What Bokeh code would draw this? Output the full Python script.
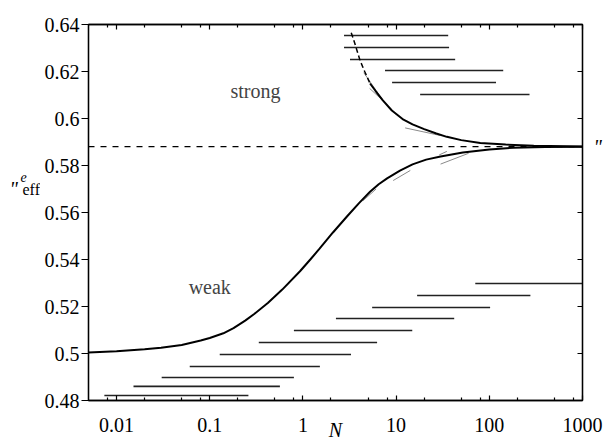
from bokeh.plotting import figure
from bokeh.layouts import row
from bokeh.models import (LogAxis, LinearAxis, FixedTicker, CustomJSTickFormatter,
                          Label, Span, Range1d)
from bokeh.core.properties import value
from bokeh.embed import file_html
from bokeh.resources import INLINE

# ---- data -------------------------------------------------------------
# weak-coupling crossover curve
weak_n = [0.005, 0.01, 0.02, 0.03, 0.05, 0.08, 0.1, 0.14, 0.18, 0.24, 0.3, 0.42, 0.6,
          0.93, 1.2, 1.5, 2.1, 3, 4, 5.25, 6.5, 8, 11, 15, 21, 30, 52, 100, 180, 400, 1000]
weak_nu = [0.5004, 0.5010, 0.5018, 0.5024, 0.5036, 0.5055, 0.5066, 0.5086, 0.5108,
           0.5140, 0.5168, 0.5215, 0.5272, 0.5350, 0.5400, 0.5445, 0.5515, 0.5585,
           0.5640, 0.5688, 0.5720, 0.5745, 0.5778, 0.5805, 0.5825, 0.5838, 0.5855,
           0.5868, 0.5876, 0.5879, 0.5880]

# strong-coupling crossover curve (first points extrapolated -> dashed)
strong_n = [3.3, 3.6, 4.1, 4.6, 5.25, 6.0, 7.2, 9.0, 12, 15, 20, 27, 35, 50, 80, 150,
            300, 1000]
strong_nu = [0.6365, 0.6320, 0.6247, 0.6200, 0.6149, 0.6118, 0.6077, 0.6034, 0.5995,
             0.5975, 0.5955, 0.5936, 0.5922, 0.5908, 0.5896, 0.5889, 0.5884, 0.5881]
strong_split = 4

# asymptotic exponent
nu_inf = 0.588

# thin grey pieces of individual chain-length data
grey_n = [[4.5, 7.0], [5.2, 7.6], [12.5, 29.5], [4.4, 6.1], [9.3, 14.2], [30, 60], [29, 35]]
grey_nu = [[0.6195, 0.6085], [0.6128, 0.6068], [0.5960, 0.5928], [0.5650, 0.5700],
           [0.5736, 0.5779], [0.5806, 0.5852], [0.5845, 0.5860]]

# fit windows (N ranges) used for the weak side
weak_lo = [0.0074, 0.0152, 0.0305, 0.061, 0.128, 0.336, 0.80, 2.26, 5.53, 16.8, 70.7]
weak_hi = [0.26, 0.566, 0.80, 1.52, 3.28, 6.25, 14.9, 42, 102, 276, 1000]
weak_lvl = [0.4821, 0.4860, 0.4898, 0.4945, 0.4996, 0.5047, 0.5098, 0.5149, 0.5196,
            0.5247, 0.5298]

# fit windows for the strong side
strong_lo = [2.76, 2.76, 3.2, 7.6, 9.05, 18.1]
strong_hi = [36.2, 37, 43, 141, 118, 270]
strong_lvl = [0.6353, 0.6302, 0.6251, 0.6204, 0.6153, 0.6102]

x_major = [0.01, 0.1, 1, 10, 100, 1000]
x_minor = [0.008, 0.02, 0.05, 0.08, 0.2, 0.5, 0.8, 2, 5, 8, 20, 50, 80, 200, 500, 800]
y_major = [0.48, 0.5, 0.52, 0.54, 0.56, 0.58, 0.6, 0.62, 0.64]

FONT = "Liberation Serif"
FS = "20px"
H = 445

# ---- main figure ------------------------------------------------------
p = figure(width=566, height=H, x_axis_type="log",
           x_range=Range1d(0.005, 1000), y_range=Range1d(0.48, 0.64),
           output_backend="svg", toolbar_location=None,
           min_border_left=48, min_border_right=24, min_border_top=24,
           min_border_bottom=45)
p.background_fill_color = "white"
p.border_fill_color = "white"
p.grid.visible = False
p.outline_line_color = "black"
p.outline_line_width = 1.3

xfmt = CustomJSTickFormatter(code="return String(+tick.toPrecision(3));")
yfmt = CustomJSTickFormatter(code="return String(+tick.toFixed(2));")
blank = CustomJSTickFormatter(code="return '';")

xb = p.xaxis[0]
xb.ticker = FixedTicker(ticks=x_major, minor_ticks=x_minor)
xb.formatter = xfmt
xb.major_tick_in = 5
xb.major_tick_out = 0
xb.minor_tick_in = 3
xb.minor_tick_out = 0
xb.major_label_standoff = 17
xb.axis_label = "N"
xb.axis_label_text_font = FONT
xb.axis_label_text_font_size = FS
xb.axis_label_text_font_style = "italic"
xb.axis_label_text_color = "black"
xb.axis_label_standoff = -16

yl = p.yaxis[0]
yl.ticker = FixedTicker(ticks=y_major)
yl.formatter = yfmt
yl.major_tick_in = 0
yl.major_tick_out = 7
yl.minor_tick_in = 0
yl.minor_tick_out = 0
yl.major_label_standoff = 2

xt = LogAxis(ticker=FixedTicker(ticks=x_major, minor_ticks=x_minor), formatter=blank,
             major_tick_in=5, major_tick_out=0, minor_tick_in=3, minor_tick_out=0,
             major_label_standoff=0)
p.add_layout(xt, "above")
yr = LinearAxis(ticker=FixedTicker(ticks=y_major), formatter=blank,
                major_tick_in=5, major_tick_out=0, minor_tick_in=0, minor_tick_out=0,
                major_label_standoff=0)
p.add_layout(yr, "right")

for ax in [xb, yl, xt, yr]:
    ax.axis_line_color = "black"
    ax.axis_line_width = 1.3
    ax.major_tick_line_color = "black"
    ax.major_tick_line_width = 1.2
    ax.minor_tick_line_color = "black"
    ax.minor_tick_line_width = 1.2
    ax.major_label_text_font = FONT
    ax.major_label_text_color = "black"
    ax.major_label_text_font_size = FS

# marker of the asymptotic value on the right-hand side
nu_axis = LinearAxis(ticker=FixedTicker(ticks=[nu_inf]),
                     formatter=CustomJSTickFormatter(code="return '\"';"),
                     major_tick_in=0, major_tick_out=0, minor_tick_in=0, minor_tick_out=0,
                     axis_line_color=None, major_label_standoff=11,
                     major_label_text_font=FONT, major_label_text_font_size=FS,
                     major_label_text_font_style="italic", major_label_text_color="black")
p.add_layout(nu_axis, "right")

# ---- marks ------------------------------------------------------------
p.add_layout(Span(location=nu_inf, dimension="width", line_color="black",
                  line_width=1.3, line_dash="6 6"))

p.segment(x0=weak_lo, x1=weak_hi, y0=weak_lvl, y1=weak_lvl,
          line_color="#222222", line_width=1.6)
p.segment(x0=strong_lo, x1=strong_hi, y0=strong_lvl, y1=strong_lvl,
          line_color="#222222", line_width=1.6)

p.multi_line(xs=grey_n, ys=grey_nu, line_color="#8a8a8a", line_width=1.0)

p.line(weak_n, weak_nu, line_color="black", line_width=2)
p.line(strong_n[strong_split:], strong_nu[strong_split:], line_color="black", line_width=2)
p.line(strong_n[:strong_split + 1], strong_nu[:strong_split + 1], line_color="black",
       line_width=1.5, line_dash="5 3")

p.add_layout(Label(x=0.31, y=0.6119, text="strong", text_font=FONT, text_font_size=FS,
                   text_align="center", text_baseline="middle"))
p.add_layout(Label(x=0.1, y=0.5281, text="weak", text_font=FONT, text_font_size=FS,
                   text_align="center", text_baseline="middle"))

# ---- y-axis title on a narrow pixel canvas ----------------------------
ystrip = figure(width=40, height=H, x_range=Range1d(0, 40), y_range=Range1d(H, 0),
                output_backend="svg", toolbar_location=None, min_border=0)
ystrip.axis.visible = False
ystrip.grid.visible = False
ystrip.outline_line_color = None
ystrip.text(x=[9], y=[195], text=['"'], text_font=value(FONT), text_font_size="20px",
            text_font_style="italic", text_baseline="alphabetic", text_color="black")
ystrip.text(x=[20], y=[181], text=["e"], text_font=value(FONT), text_font_size="14px",
            text_font_style="italic", text_baseline="alphabetic", text_color="black")
ystrip.text(x=[22], y=[195], text=["eff"], text_font=value(FONT), text_font_size="16px",
            text_baseline="alphabetic", text_color="black")

layout = row(ystrip, p, spacing=0)

open("out.html", "w").write(file_html(layout, INLINE))
